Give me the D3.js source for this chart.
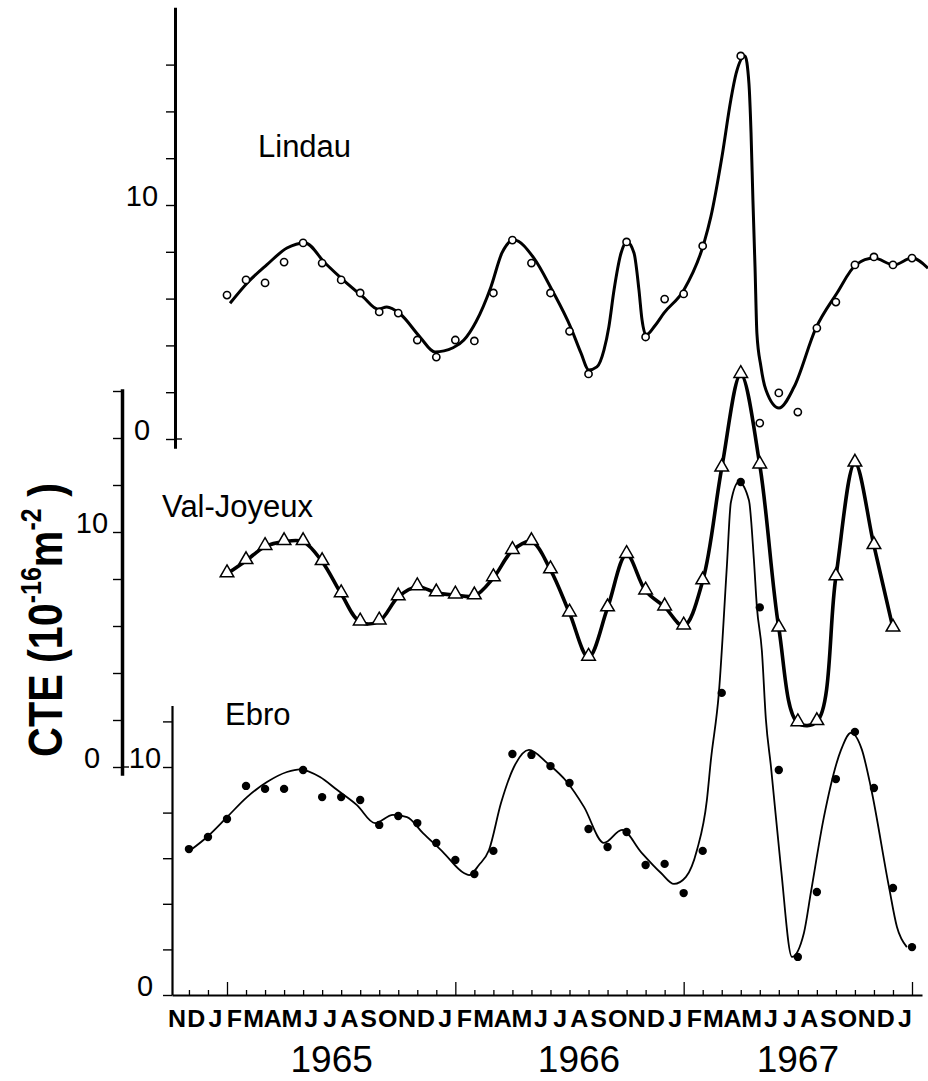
<!DOCTYPE html>
<html><head><meta charset="utf-8">
<script src="https://cdn.jsdelivr.net/npm/d3@7"></script>
<style>
body{margin:0;background:#fff}
svg{display:block}
text{font-family:"Liberation Sans",Arial,sans-serif;fill:#000}
</style>
</head><body>
<svg id="c" width="928" height="1081"></svg>
<script>
// ---------- data (month index: 0 = Nov 1964, 2 = Jan 1965, ... 38 = Jan 1968)
const monthLetters = "NDJFMAMJJASONDJFMAMJJASONDJFMAMJJASONDJ".split("");
const monthIdx = d3.range(0, 39);
const janIdx = [2, 14, 26, 38];
const yearLabels = ["1965", "1966", "1967"];
const yearLabelAt = [7.5, 20.5, 32.0];
const yTickLabels = [0, 10];
const seriesNames = ["Lindau", "Val-Joyeux", "Ebro"];

// Lindau observations (open circles)
const lindauMonths = [2,3,4,5,6,7,8,9,10,11,12,13,14,15,16,17,18,19,20,21,23,24,25,26,27,29,30,31,32,33,34,35,36,37,38];
const lindauValues = [6.15,6.8,6.67,7.56,8.38,7.52,6.8,6.24,5.43,5.38,4.23,3.5,4.23,4.19,6.24,8.5,7.52,6.24,4.6,2.78,8.42,4.36,5.98,6.2,8.25,16.37,0.68,1.97,1.15,4.74,5.85,7.44,7.78,7.44,7.73];
// Lindau smoothed curve
const lindauFitMonths = [2.16,3.1,4.1,5.15,6.1,7.15,8.1,9.15,9.93,10.4,11.09,12.14,12.93,13.88,14.45,15.08,15.87,16.45,17.08,18.13,19.08,20.08,20.6,21.02,21.44,21.81,22.07,22.34,22.71,23.02,23.39,23.65,23.81,24.02,24.5,24.96,26.01,27.07,27.43,28.01,28.48,28.75,29.22,29.43,29.54,29.64,29.75,29.85,30.06,30.32,31.01,31.8,32.95,34.06,35.05,36.0,37.05,38.0,38.84];
const lindauFitValues = [5.8,6.7,7.45,8.16,8.38,7.52,6.8,6.07,5.55,5.64,5.35,4.36,3.72,3.9,4.23,5.0,6.5,7.95,8.5,7.73,6.37,4.74,3.68,2.95,3.08,3.8,4.8,6.37,7.95,8.42,7.95,6.37,5.1,4.44,4.85,5.38,6.37,8.38,9.5,12.05,14.5,15.6,16.37,15.2,13.1,10.2,7.35,4.5,3.1,2.1,1.32,2.22,4.74,6.24,7.44,7.73,7.44,7.73,7.3];

// Val-Joyeux observations (triangles), Jan 1965 .. Dec 1967
const valMonths = d3.range(2, 38);
const valValues = [8.22,8.78,9.38,9.59,9.59,8.74,7.37,6.17,6.21,7.24,7.67,7.41,7.32,7.28,8.05,9.21,9.59,8.39,6.55,4.67,6.77,9.04,7.49,6.81,6.0,7.92,12.72,16.7,12.85,5.91,1.88,1.93,8.09,12.93,9.42,5.91];

// Ebro observations (filled dots), Nov 1964 .. Jan 1968
const ebroMonths = d3.range(0, 39);
const ebroValues = [6.4,6.93,7.72,9.17,9.04,9.04,9.87,8.68,8.68,8.55,7.46,7.85,7.54,6.67,5.92,5.31,6.32,10.57,10.53,10.04,9.3,7.28,6.49,7.15,5.7,5.75,4.47,6.32,13.25,22.5,17.0,9.87,1.67,4.52,9.47,11.54,9.08,4.69,2.1];
// Ebro smoothed curve
const ebroFitMonths = [0.16,0.95,2.0,3.05,4.1,5.15,5.84,6.89,7.78,8.83,9.78,10.72,11.46,12.3,13.35,14.45,14.72,15.24,15.77,16.4,17.08,17.87,18.82,19.87,20.76,21.81,22.76,23.76,24.81,25.49,26.12,26.7,27.22,27.43,27.85,28.27,28.48,28.9,29.43,29.69,29.85,30.11,30.32,30.59,31.11,31.69,32.32,32.69,33.37,34.27,34.79,35.37,35.84,36.79,37.21,37.73];
const ebroFitValues = [6.4,6.93,7.8,8.68,9.34,9.78,9.9,9.56,9.0,8.33,7.54,7.9,7.8,7.1,6.27,5.35,5.26,5.7,6.36,8.42,10.0,10.75,10.18,9.34,8.25,6.67,7.24,6.27,5.35,4.87,5.18,6.36,8.55,10.3,13.25,18.8,21.6,22.5,21.7,19.1,17.0,15.1,12.1,10.0,5.6,1.67,2.72,4.52,7.8,10.75,11.5,10.75,9.1,4.74,2.98,2.1];

// ---------- scales
const svg = d3.select("#c");
const x = d3.scaleLinear().domain([2, 38]).range([227, 912]);
const yL = d3.scaleLinear().domain([0, 10]).range([439, 205]);
const yV = d3.scaleLinear().domain([0, 10]).range([767, 532]);
const yE = d3.scaleLinear().domain([0, 10]).range([995, 767]);
const letterPos = d3.scalePoint().domain(monthIdx).range([177, 905]);

// ---------- y axes
function yAxis(scale, ax, ext, maxTick, width, labelDx, crossZero) {
  const s = scale.copy().domain(ext).range(ext.map(scale));
  const g = svg.append("g").attr("transform", `translate(${ax},0)`)
    .call(d3.axisLeft(s).tickValues(d3.range(0, maxTick + 1, 2)).tickSize(9).tickSizeOuter(0).tickFormat(""));
  g.select(".domain").attr("stroke", "#000").attr("stroke-width", width);
  g.selectAll(".tick line").attr("stroke", "#000").attr("stroke-width", 1.4);
  if (crossZero) {
    g.append("line").attr("x1", 0).attr("x2", 7).attr("y1", scale(0)).attr("y2", scale(0))
      .attr("stroke", "#000").attr("stroke-width", 1.4);
  }
  svg.selectAll(null).data(yTickLabels).enter().append("text")
    .attr("x", ax - labelDx).attr("y", d => scale(d) + 1)
    .attr("text-anchor", "middle").attr("font-size", 29).text(d => d);
}
yAxis(yL, 175, [-0.4, 18.45], 16, 3, 33, true);
yAxis(yV, 122, [-0.35, 16.1], 16, 3.5, 30, true);
yAxis(yE, 172, [0, 12.7], 12, 2.2, 27, false);

// ---------- x axis
const xa = x.copy().domain([x.invert(172), x.invert(922)]).range([172, 922]);
const gx = svg.append("g").attr("transform", "translate(0,995)")
  .call(d3.axisTop(xa).tickValues(monthIdx).tickSize(5).tickSizeOuter(0).tickFormat(""));
gx.select(".domain").attr("stroke", "#000").attr("stroke-width", 2.2);
gx.selectAll(".tick line").attr("stroke", "#000").attr("stroke-width", 1.3)
  .attr("y2", d => janIdx.includes(d) ? -13 : -5);

svg.selectAll(null).data(monthIdx).enter().append("text")
  .attr("transform", d => `translate(${letterPos(d)},1027) scale(1.04,1)`)
  .attr("text-anchor", "middle").attr("font-size", 24).attr("font-weight", "bold")
  .text(d => monthLetters[d]);

svg.selectAll(null).data(yearLabels).enter().append("text")
  .attr("x", (d, i) => x(yearLabelAt[i])).attr("y", 1072)
  .attr("text-anchor", "middle").attr("font-size", 37).text(d => d);

// ---------- y label
const yl = svg.append("text").attr("transform", "translate(62,620) rotate(-90) scale(0.86,1)")
  .attr("text-anchor", "middle").attr("font-size", 48).attr("font-weight", "bold");
yl.append("tspan").text("CTE (10");
yl.append("tspan").attr("font-size", 29).attr("baseline-shift", "75%").text("-16");
yl.append("tspan").text("m");
yl.append("tspan").attr("font-size", 29).attr("baseline-shift", "75%").text("-2");
yl.append("tspan").text(" )");

// ---------- series labels
const labelPos = [[258, 157], [162, 517], [225, 725]];
svg.selectAll(null).data(seriesNames).enter().append("text")
  .attr("x", (d, i) => labelPos[i][0]).attr("y", (d, i) => labelPos[i][1])
  .attr("font-size", 31).text(d => d);

// ---------- lines
const zip = (a, b) => a.map((m, i) => [m, b[i]]);
svg.append("path").datum(zip(lindauFitMonths, lindauFitValues))
  .attr("fill", "none").attr("stroke", "#000").attr("stroke-width", 3)
  .attr("d", d3.line().x(d => x(d[0])).y(d => yL(d[1])).curve(d3.curveMonotoneX));
svg.append("path").datum(zip(valMonths, valValues))
  .attr("fill", "none").attr("stroke", "#000").attr("stroke-width", 3.6)
  .attr("d", d3.line().x(d => x(d[0])).y(d => yV(d[1])).curve(d3.curveCatmullRom.alpha(0.5)));
svg.append("path").datum(zip(ebroFitMonths, ebroFitValues))
  .attr("fill", "none").attr("stroke", "#000").attr("stroke-width", 1.8)
  .attr("d", d3.line().x(d => x(d[0])).y(d => yE(d[1])).curve(d3.curveMonotoneX));

// ---------- markers
svg.selectAll(null).data(zip(lindauMonths, lindauValues)).enter().append("circle")
  .attr("cx", d => x(d[0])).attr("cy", d => yL(d[1])).attr("r", 3.6)
  .attr("fill", "#fff").attr("stroke", "#000").attr("stroke-width", 1.6);
svg.selectAll(null).data(zip(valMonths, valValues)).enter().append("path")
  .attr("transform", d => `translate(${x(d[0])},${yV(d[1]) - 1})`)
  .attr("d", d3.symbol(d3.symbolTriangle, 80))
  .attr("fill", "#fff").attr("stroke", "#000").attr("stroke-width", 1.5);
svg.selectAll(null).data(zip(ebroMonths, ebroValues)).enter().append("circle")
  .attr("cx", d => x(d[0])).attr("cy", d => yE(d[1])).attr("r", 4.2)
  .attr("fill", "#000");
</script>
</body></html>
